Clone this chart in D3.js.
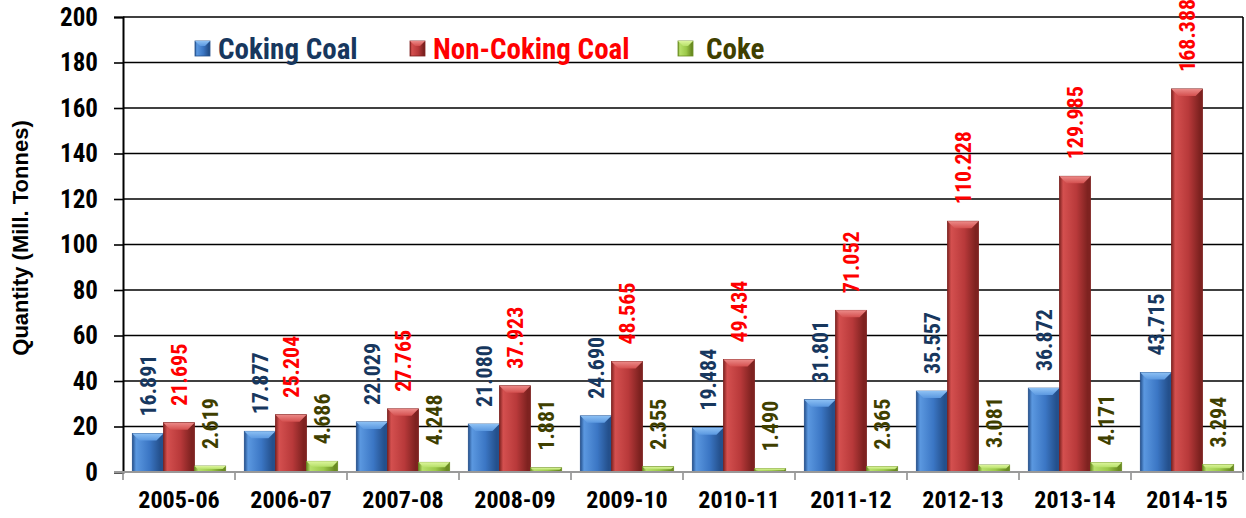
<!DOCTYPE html>
<html>
<head>
<meta charset="utf-8">
<script src="https://cdn.jsdelivr.net/npm/d3@7"></script>
<style>
  body { margin: 0; background: #fff; }
  svg text { font-family: "Liberation Sans Narrow", "Arial Narrow", "Roboto Condensed", sans-serif; font-weight: bold; }
  svg text.title { font-family: "Liberation Sans", Arial, sans-serif; }
</style>
</head>
<body>
<div id="chart"></div>
<script>
// chart data
var years = ["2005-06", "2006-07", "2007-08", "2008-09", "2009-10", "2010-11", "2011-12", "2012-13", "2013-14", "2014-15"];
var seriesNames = ["Coking Coal", "Non-Coking Coal", "Coke"];
var cokingCoal = [16.891, 17.877, 22.029, 21.080, 24.690, 19.484, 31.801, 35.557, 36.872, 43.715];
var nonCokingCoal = [21.695, 25.204, 27.765, 37.923, 48.565, 49.434, 71.052, 110.228, 129.985, 168.388];
var coke = [2.619, 4.686, 4.248, 1.881, 2.355, 1.490, 2.365, 3.081, 4.171, 3.294];
var yTicks = [0, 20, 40, 60, 80, 100, 120, 140, 160, 180, 200];

var width = 1246, height = 518;
var plot = {left: 123, right: 1243, top: 17, bottom: 472};

// bar styles: edge, body, light, bevel
var styles = [
    {id: "blue", edge: "#24508c", body: "#3b76c4", light: "#5b98e0", bevel: "#8cc0f4", text: "#17375e"},
    {id: "red", edge: "#7e2220", body: "#b8393a", light: "#d4504f", bevel: "#ec8a88", text: "#ff0000"},
    {id: "green", edge: "#6a8c22", body: "#9cc94a", light: "#b7e06a", bevel: "#dcf59c", text: "#3f3f00"}
];
var values = [cokingCoal, nonCokingCoal, coke];

var svg = d3.select("#chart").append("svg")
    .attr("width", width)
    .attr("height", height);

var defs = svg.append("defs");
styles.forEach(function(s) {
    var g = defs.append("linearGradient").attr("id", "body-" + s.id)
        .attr("x1", "0").attr("x2", "1").attr("y1", "0").attr("y2", "0");
    g.append("stop").attr("offset", "0").attr("stop-color", s.edge);
    g.append("stop").attr("offset", "0.12").attr("stop-color", s.light);
    g.append("stop").attr("offset", "0.55").attr("stop-color", s.body);
    g.append("stop").attr("offset", "0.9").attr("stop-color", s.edge);
    g.append("stop").attr("offset", "1").attr("stop-color", s.edge);
    var b = defs.append("linearGradient").attr("id", "bevel-" + s.id)
        .attr("x1", "0").attr("x2", "0").attr("y1", "0").attr("y2", "1");
    b.append("stop").attr("offset", "0").attr("stop-color", s.bevel);
    b.append("stop").attr("offset", "1").attr("stop-color", s.light);
});

var x0 = d3.scaleBand()
    .domain(years)
    .range([plot.left, plot.right])
    .padding(0);

var x1 = d3.scaleBand()
    .domain(seriesNames)
    .range([0, x0.bandwidth()])
    .paddingInner(0)
    .paddingOuter(0.3);

var y = d3.scaleLinear()
    .domain([0, 200])
    .range([plot.bottom, plot.top]);

// gridlines
svg.append("g")
    .selectAll("line")
    .data(yTicks.filter(function(d) { return d > 0; }))
    .enter()
  .append("line")
    .attr("x1", plot.left)
    .attr("x2", plot.right)
    .attr("y1", function(d) { return y(d); })
    .attr("y2", function(d) { return y(d); })
    .attr("stroke", "#000")
    .attr("stroke-width", 1.6);

// right border
svg.append("line")
    .attr("x1", plot.right).attr("x2", plot.right)
    .attr("y1", plot.top).attr("y2", plot.bottom)
    .attr("stroke", "#000").attr("stroke-width", 1.6);

// y axis
var yAxis = d3.axisLeft(y)
    .tickValues(yTicks)
    .tickSize(9)
    .tickPadding(16);

var yG = svg.append("g")
    .attr("transform", "translate(" + plot.left + ",0)")
    .call(yAxis);
yG.select(".domain").attr("stroke", "#000").attr("stroke-width", 2);
yG.selectAll(".tick line").attr("stroke", "#000").attr("stroke-width", 1.6);
yG.selectAll(".tick text")
    .attr("fill", "#000")
    .style("font-size", "25px");

// x axis
var xAxis = d3.axisBottom(x0)
    .tickSize(0)
    .tickPadding(19);

var xG = svg.append("g")
    .attr("transform", "translate(0," + plot.bottom + ")")
    .call(xAxis);
xG.select(".domain").remove();
xG.selectAll(".tick text")
    .attr("fill", "#000")
    .style("font-size", "24px");

// category separators below axis
svg.append("g")
    .selectAll("line")
    .data(years.concat(["end"]))
    .enter()
  .append("line")
    .attr("x1", function(d, i) { return i < years.length ? x0(d) : plot.right; })
    .attr("x2", function(d, i) { return i < years.length ? x0(d) : plot.right; })
    .attr("y1", plot.bottom)
    .attr("y2", plot.bottom + 8)
    .attr("stroke", "#888")
    .attr("stroke-width", 1.5);

// bars
var groups = svg.append("g")
    .selectAll("g")
    .data(years)
    .enter()
  .append("g")
    .attr("transform", function(d) { return "translate(" + x0(d) + ",0)"; });

seriesNames.forEach(function(name, si) {
    var s = styles[si];
    groups.each(function(year, i) {
        var g = d3.select(this);
        var v = values[si][i];
        var bx = x1(name), bw = x1.bandwidth();
        var top = y(v), h = y(0) - y(v);
        g.append("rect")
            .attr("x", bx)
            .attr("y", top)
            .attr("width", bw)
            .attr("height", h)
            .attr("fill", "url(#body-" + s.id + ")")
            .attr("stroke", s.edge)
            .attr("stroke-width", 0.8);
        var bev = Math.min(7, h / 2);
        g.append("path")
            .attr("d", "M" + bx + "," + top +
                       "L" + (bx + bw) + "," + top +
                       "L" + (bx + bw - bev) + "," + (top + bev) +
                       "L" + (bx + bev) + "," + (top + bev) + "Z")
            .attr("fill", "url(#bevel-" + s.id + ")");
        g.append("text")
            .attr("transform", "translate(" + (bx + bw / 2) + "," + (top - 17) + ") rotate(-90)")
            .attr("dy", "0.35em")
            .attr("text-anchor", "start")
            .attr("fill", s.text)
            .style("font-size", "22px")
            .text(v.toFixed(3));
    });
});

// baseline
svg.append("line")
    .attr("x1", plot.left - 9).attr("x2", plot.right)
    .attr("y1", plot.bottom).attr("y2", plot.bottom)
    .attr("stroke", "#999").attr("stroke-width", 2);

// y axis title
svg.append("text")
    .attr("class", "title")
    .attr("transform", "translate(28,238) rotate(-90)")
    .attr("text-anchor", "middle")
    .attr("fill", "#000")
    .style("font-size", "22px")
    .text("Quantity (Mill. Tonnes)");

// legend
var legendX = [195, 410, 678];
var legend = svg.append("g")
    .selectAll("g")
    .data(seriesNames)
    .enter()
  .append("g")
    .attr("transform", function(d, i) { return "translate(" + legendX[i] + ",41)"; });

legend.append("rect")
    .attr("width", 15)
    .attr("height", 15)
    .attr("fill", function(d, i) { return "url(#body-" + styles[i].id + ")"; })
    .attr("stroke", function(d, i) { return styles[i].edge; })
    .attr("stroke-width", 0.8);

legend.append("path")
    .attr("d", "M0,0L15,0L10,5L5,5Z")
    .attr("fill", function(d, i) { return "url(#bevel-" + styles[i].id + ")"; });

legend.append("text")
    .attr("x", function(d, i) { return i === 2 ? 28 : 23; })
    .attr("y", 18)
    .attr("fill", function(d, i) { return styles[i].text; })
    .style("font-size", "29px")
    .text(function(d) { return d; });
</script>
</body>
</html>
